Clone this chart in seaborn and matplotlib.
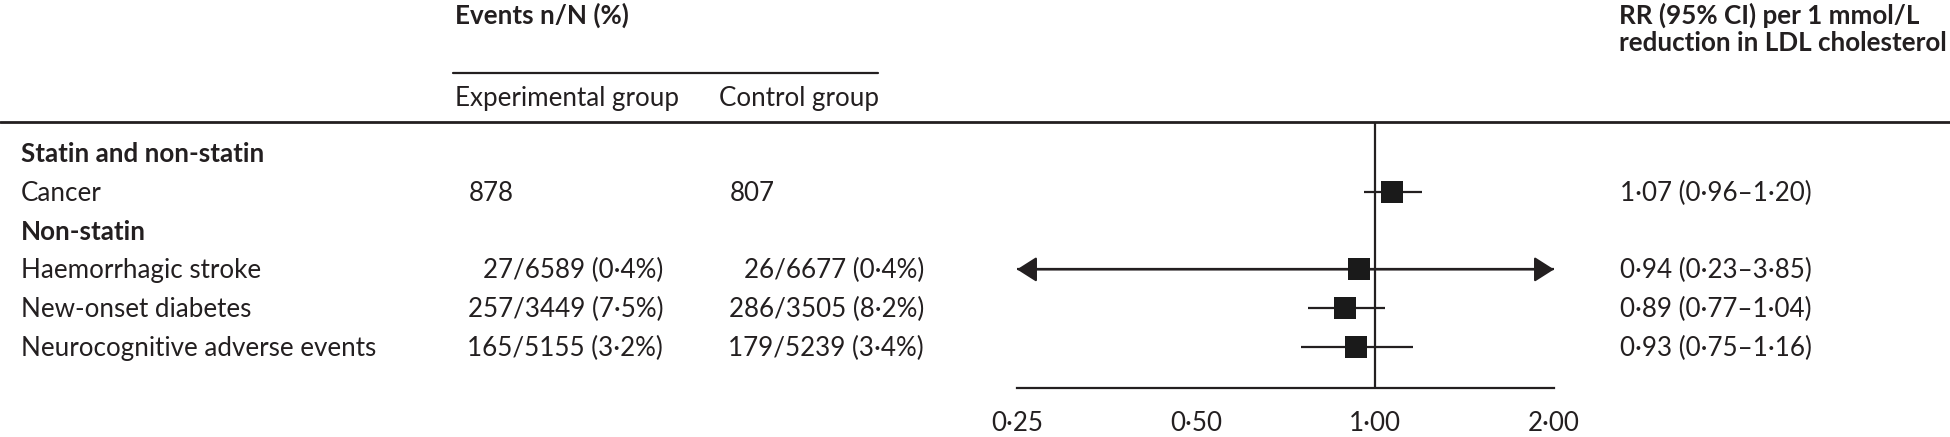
import matplotlib
matplotlib.use("Agg")
import matplotlib.pyplot as plt
import matplotlib.transforms as mtransforms
from matplotlib.lines import Line2D
from matplotlib.ticker import FixedLocator, NullLocator
import pandas as pd
import seaborn as sns

# rows of the table (group headers in bold)
row_labels = ["Statin and non-statin", "Cancer", "Non-statin",
              "Haemorrhagic stroke", "New-onset diabetes", "Neurocognitive adverse events"]
row_is_header = [True, False, True, False, False, False]

# one entry per outcome
outcomes = ["Cancer", "Haemorrhagic stroke", "New-onset diabetes", "Neurocognitive adverse events"]
exp_n = [878, 27, 257, 165]
exp_total = [None, 6589, 3449, 5155]
exp_pct = [None, 0.4, 7.5, 3.2]
ctl_n = [807, 26, 286, 179]
ctl_total = [None, 6677, 3505, 5239]
ctl_pct = [None, 0.4, 8.2, 3.4]
rr = [1.07, 0.94, 0.89, 0.93]
ci_low = [0.96, 0.23, 0.77, 0.75]
ci_high = [1.20, 3.85, 1.04, 1.16]

xticks = [0.25, 0.5, 1.0, 2.0]

W, H = 1950, 437
INK = "#231f20"
FS = 18.7


def dot(v, nd=2):
    return f"{v:.{nd}f}".replace(".", "\u00b7")


def events_text(n, total, pct):
    if total is None:
        return str(n)
    return f"{n}/{total} ({dot(pct, 1)}%)"


sns.set_style("white")
plt.rcParams["font.family"] = ["Lato", "DejaVu Sans"]

df = pd.DataFrame({
    "outcome": outcomes,
    "row": [row_labels.index(o) for o in outcomes],
    "rr": rr, "lo": ci_low, "hi": ci_high,
})

fig = plt.figure(figsize=(W / 100, H / 100), dpi=100)
fig.patch.set_facecolor("white")

# forest panel: 0.25 .. 2.00 on a log axis
ax = fig.add_axes([1017 / W, 1 - 388 / H, (1554 - 1017) / W, (388 - 122) / H])
ax.set_xscale("log", base=2)
ax.set_xlim(xticks[0], xticks[-1])
ax.set_ylim((388 - 153) / 38.8, -(153 - 122) / 38.8)

ax.axvline(1.0, color=INK, lw=1.6, zorder=1)

for _, r in df.iterrows():
    lo = max(r["lo"], xticks[0])
    hi = min(r["hi"], xticks[-1])
    ax.hlines(r["row"], lo, hi, color=INK, lw=1.6, zorder=2)
    arrow = dict(arrowstyle="-|>,head_length=0.55,head_width=0.35", color=INK,
                 lw=1.6, mutation_scale=22, shrinkA=0, shrinkB=0)
    if r["lo"] < xticks[0]:
        ax.annotate("", xy=(xticks[0], r["row"]), xytext=(r["rr"], r["row"]),
                    arrowprops=arrow, annotation_clip=False)
    if r["hi"] > xticks[-1]:
        ax.annotate("", xy=(xticks[-1], r["row"]), xytext=(r["rr"], r["row"]),
                    arrowprops=arrow, annotation_clip=False)

sns.scatterplot(data=df, x="rr", y="row", marker="s", s=255, color="#1a1a1a",
                linewidth=0, ax=ax, legend=False, zorder=3, clip_on=False)

ax.xaxis.set_major_locator(FixedLocator(xticks))
ax.xaxis.set_minor_locator(NullLocator())
ax.set_xticklabels([dot(t) for t in xticks])
ax.tick_params(axis="x", direction="out", length=9.5, width=1.6, pad=7,
               labelsize=FS, colors=INK)
ax.set_yticks([])
ax.set_xlabel("")
ax.set_ylabel("")
sns.despine(ax=ax, left=True)
ax.spines["bottom"].set_linewidth(1.6)
ax.spines["bottom"].set_color(INK)
ax.patch.set_alpha(0)

# text columns share the rows of the forest panel
trans = mtransforms.blended_transform_factory(fig.transFigure, ax.transData)
row_trans = mtransforms.offset_copy(trans, fig=fig, y=-9, units="dots")

for i, lab in enumerate(row_labels):
    ax.text(21 / W, i, lab, transform=row_trans, fontsize=FS, color=INK, va="baseline",
            fontweight="bold" if row_is_header[i] else "normal", clip_on=False)

for k, o in enumerate(outcomes):
    y = row_labels.index(o)
    e_txt = events_text(exp_n[k], exp_total[k], exp_pct[k])
    c_txt = events_text(ctl_n[k], ctl_total[k], ctl_pct[k])
    if exp_total[k] is None:
        ax.text(469 / W, y, e_txt, transform=row_trans, fontsize=FS, color=INK, va="baseline")
        ax.text(730 / W, y, c_txt, transform=row_trans, fontsize=FS, color=INK, va="baseline")
    else:
        ax.text(663 / W, y, e_txt, transform=row_trans, fontsize=FS, color=INK,
                va="baseline", ha="right")
        ax.text(924 / W, y, c_txt, transform=row_trans, fontsize=FS, color=INK,
                va="baseline", ha="right")
    ci = f"{dot(rr[k])} ({dot(ci_low[k])}\u2013{dot(ci_high[k])})"
    ax.text(1620 / W, y, ci, transform=row_trans, fontsize=FS, color=INK, va="baseline")

# column headers
fig.text(455 / W, 1 - 24 / H, "Events n/N (%)", fontsize=FS, fontweight="bold",
         color=INK, va="baseline")
fig.text(455 / W, 1 - 106 / H, "Experimental group", fontsize=FS, color=INK, va="baseline")
fig.text(719 / W, 1 - 106 / H, "Control group", fontsize=FS, color=INK, va="baseline")
fig.text(1619 / W, 1 - 24 / H, "RR (95% CI) per 1 mmol/L", fontsize=FS,
         fontweight="bold", color=INK, va="baseline")
fig.text(1619 / W, 1 - 51 / H, "reduction in LDL cholesterol", fontsize=FS,
         fontweight="bold", color=INK, va="baseline")

# rules
fig.add_artist(Line2D([453 / W, 878 / W], [1 - 73 / H, 1 - 73 / H], color=INK, lw=1.6))
fig.add_artist(Line2D([0, 1], [1 - 122 / H, 1 - 122 / H], color=INK, lw=2.0))

fig.savefig("out.png", dpi=100, facecolor="white")
